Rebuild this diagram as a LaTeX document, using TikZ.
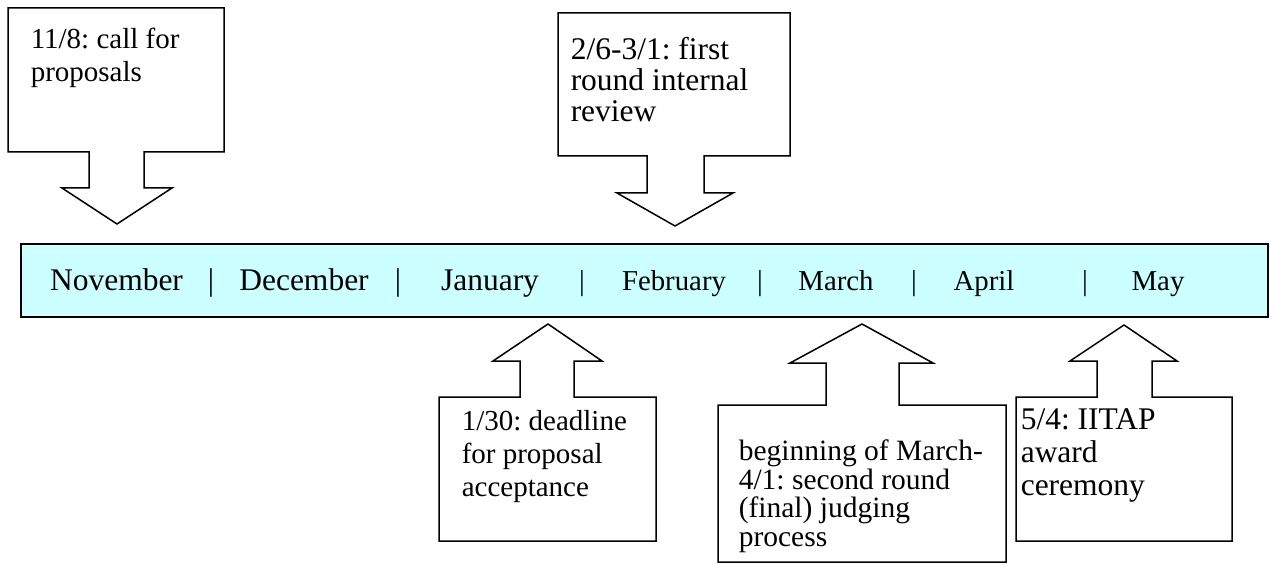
\documentclass[tikz,border=0pt]{standalone}
\usepackage{fontspec}
\setmainfont{Liberation Serif}
\frenchspacing
\definecolor{barcyan}{HTML}{CCFFFF}
\begin{document}
\begin{tikzpicture}[x=1pt,y=-1pt,line width=1.5pt,line join=miter,
  callout/.style={draw=black,fill=white},
  mbig/.style={font=\fontsize{31.5}{36}\selectfont,inner sep=0,anchor=base},
  msmall/.style={font=\fontsize{28.8}{33}\selectfont,inner sep=0,anchor=base},
  ctext/.style={inner sep=0,anchor=north west,align=left},
  csmall/.style={ctext,font=\fontsize{29}{33}\selectfont},
  clarge/.style={ctext,font=\fontsize{31.5}{31}\selectfont}]
\useasboundingbox (0,0) rectangle (1271,564);
% timeline bar
\node[draw=black,fill=barcyan,minimum width=1247pt,minimum height=73pt,inner sep=0,anchor=north west] (bar) at (20,243) {};
\node[mbig] (nov) at (116.5,290) {November};
\node[mbig] (s1) at (211,290) {|};
\node[mbig] (dec) at (304,290) {December};
\node[mbig] (s2) at (398,290) {|};
\node[mbig] (jan) at (490,290) {January};
\node[msmall] (s3) at (582,290) {|};
\node[msmall] (feb) at (674,290) {February};
\node[msmall] (s4) at (760,290) {|};
\node[msmall] (mar) at (836,290) {March};
\node[msmall] (s5) at (914,290) {|};
\node[msmall] (apr) at (984,290) {April};
\node[msmall] (s6) at (1085,290) {|};
\node[msmall] (may) at (1158,290) {May};
% down callouts
\draw[callout] (8,8) -- (224,8) -- (224,152) -- (144,152) -- (144,188) -- (172,188) -- (117,224) -- (62,188) -- (89,188) -- (89,152) -- (8,152) -- cycle;
\node[csmall] (c1) at (30,27) {11/8: call for\\proposals};
\draw[callout] (558,13) -- (790,13) -- (790,156) -- (704,156) -- (704,193) -- (733,193) -- (675,226) -- (617,193) -- (647,193) -- (647,156) -- (558,156) -- cycle;
\node[clarge] (c2) at (570,37) {2/6-3/1: first\\round internal\\review};
% up callouts
\draw[callout] (439,541) -- (656,541) -- (656,397) -- (574,397) -- (574,361) -- (602,361) -- (548,324) -- (493,361) -- (520,361) -- (520,397) -- (439,397) -- cycle;
\node[csmall] (c3) at (461,410) {1/30: deadline\\for proposal\\acceptance};
\draw[callout] (718,562) -- (1006,562) -- (1006,405) -- (899,405) -- (899,363) -- (933,363) -- (862,324) -- (790,363) -- (826,363) -- (826,405) -- (718,405) -- cycle;
\node[csmall,font=\fontsize{29.5}{28.5}\selectfont] (c4) at (738,439) {beginning of March-\\4/1: second round\\(final) judging\\process};
\draw[callout] (1016,541) -- (1232,541) -- (1232,397) -- (1152,397) -- (1152,361) -- (1177,361) -- (1124,325) -- (1070,361) -- (1097,361) -- (1097,397) -- (1016,397) -- cycle;
\node[clarge,font=\fontsize{31.5}{33}\selectfont] (c5) at (1020,408) {5/4: IITAP\\award\\ceremony};
\end{tikzpicture}
\end{document}
